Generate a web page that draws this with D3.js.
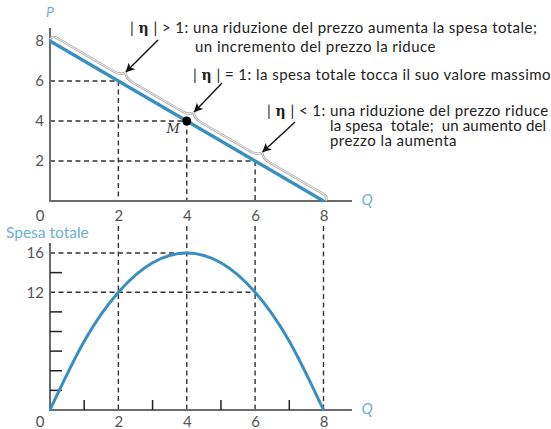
<!DOCTYPE html>
<html>
<head>
<meta charset="utf-8">
<script src="https://cdn.jsdelivr.net/npm/d3@7"></script>
<style>
  html, body { margin: 0; padding: 0; background: #fff; }
  svg { display: block; font-family: Lato, "Open Sans", sans-serif; }
</style>
</head>
<body>
<svg id="chart" width="551" height="429"></svg>
<script>
// Demand curve: quantity and price
const demandQ = [0, 2, 4, 6, 8];
const demandP = [8, 6, 4, 2, 0];
// Total spending P*Q along the demand curve
const spendQ = [0, 1, 2, 3, 4, 5, 6, 7, 8];
const spendValues = [0, 7, 12, 15, 16, 15, 12, 7, 0];
// Tick labels
const qTicks = [2, 4, 6, 8];
const pTicks = [2, 4, 6, 8];
const spendTicks = [12, 16];
const spendMinorTicks = [2, 4, 6, 8, 10, 14];
const qMinorTicks = [1, 3, 5, 7];
// Reference points marked with dashed guides
const guideQ = [2, 4, 6];
const guideP = [6, 4, 2];
const spendGuideQ = [2, 4, 6, 8];
// Point of unit elasticity
const pointM = { q: 4, p: 4, label: "M" };
// Brace notches along the demand line (in Q units)
const braceNotches = [2, 4, 6];

// Elasticity notes: condition and explanation lines
const noteConditions = ["> 1:", "= 1:", "< 1:"];
const noteLines = [
  ["una riduzione del prezzo aumenta la spesa totale;", "un incremento del prezzo la riduce"],
  ["la spesa totale tocca il suo valore massimo"],
  ["una riduzione del prezzo riduce", "la spesa  totale;  un aumento del", "prezzo la aumenta"]
];

const svg = d3.select("#chart");
const blue = "#3a8fc2";
const lightBlue = "#6cb0d0";
const axisCol = "#6a6a6a";
const tickCol = "#555";
const dashCol = "#333";

const x = d3.scaleLinear().domain([0, 8]).range([50, 323.5]);
const yTop = d3.scaleLinear().domain([0, 8]).range([201, 41]);
const yBot = d3.scaleLinear().domain([0, 16]).range([410, 253]);

// Arrow marker
svg.append("defs").append("marker")
  .attr("id", "arrow").attr("viewBox", "0 0 10 10")
  .attr("refX", 9).attr("refY", 5)
  .attr("markerWidth", 9).attr("markerHeight", 9)
  .attr("markerUnits", "userSpaceOnUse")
  .attr("orient", "auto")
  .append("path").attr("d", "M0,0 L10,5 L0,10 L2.5,5 Z").attr("fill", "#111");

const dash = "5,3.5";

// ---------- Upper panel: demand ----------
const upper = svg.append("g");

// dashed guides
guideQ.forEach((q, i) => {
  upper.append("line")
    .attr("x1", x(0)).attr("x2", x(q))
    .attr("y1", yTop(guideP[i])).attr("y2", yTop(guideP[i]))
    .attr("stroke", dashCol).attr("stroke-width", 1.4).attr("stroke-dasharray", dash);
  upper.append("line")
    .attr("x1", x(q)).attr("x2", x(q))
    .attr("y1", yTop(guideP[i])).attr("y2", yTop(0))
    .attr("stroke", dashCol).attr("stroke-width", 1.4).attr("stroke-dasharray", dash);
});

// axes
upper.append("line").attr("x1", x(0)).attr("x2", x(0)).attr("y1", 28).attr("y2", yTop(0))
  .attr("stroke", axisCol).attr("stroke-width", 2);
upper.append("line").attr("x1", x(0) - 1).attr("x2", 352).attr("y1", yTop(0)).attr("y2", yTop(0))
  .attr("stroke", axisCol).attr("stroke-width", 2);

// tick labels
const xAxisTop = d3.axisBottom(x).tickValues(qTicks).tickSize(0).tickPadding(9);
upper.append("g").attr("transform", `translate(0,${yTop(0)})`).call(xAxisTop)
  .call(g => g.select(".domain").remove())
  .call(g => g.selectAll("text").attr("fill", tickCol).attr("font-size", 15).attr("font-family", "Lato, sans-serif"));
const yAxisTop = d3.axisLeft(yTop).tickValues(pTicks).tickSize(0).tickPadding(6);
upper.append("g").attr("transform", `translate(${x(0)},0)`).call(yAxisTop)
  .call(g => g.select(".domain").remove())
  .call(g => g.selectAll("text").attr("fill", tickCol).attr("font-size", 15).attr("font-family", "Lato, sans-serif"));
upper.append("text").attr("x", 40).attr("y", yTop(0) + 20).attr("text-anchor", "middle")
  .attr("fill", tickCol).attr("font-size", 15).text("0");

// brace outline along the demand line
const p0 = [x(demandQ[0]), yTop(demandP[0])];
const p1 = [x(demandQ[demandQ.length - 1]), yTop(demandP[demandP.length - 1])];
const len = Math.hypot(p1[0] - p0[0], p1[1] - p0[1]);
const dir = [(p1[0] - p0[0]) / len, (p1[1] - p0[1]) / len];
const nrm = [dir[1], -dir[0]]; // points up-right
const qScale = d3.scaleLinear().domain([0, 8]).range([0, len]);
function pt(q, off) {
  const s = qScale(q);
  return [p0[0] + dir[0] * s + nrm[0] * off, p0[1] + dir[1] * s + nrm[1] * off];
}
const off = 6, bump = 5, half = 0.22;
let d = "";
{
  const a = pt(-0.02, 1.5), b = pt(0.1, off), c = pt(-0.02, off);
  d += `M${a} Q${c} ${b}`;
}
braceNotches.forEach(q => {
  const l = pt(q - half, off), lc = pt(q - 0.02, off), tip = pt(q + 0.05, off + bump), rc = pt(q + 0.12, off);
  const r = pt(q + half + 0.1, off);
  d += ` L${l} Q${lc} ${tip} Q${rc} ${r}`;
});
{
  const e1 = pt(7.92, off), ec = pt(8.03, off), e2 = pt(8.05, 1.5);
  d += ` L${e1} Q${ec} ${e2}`;
}
upper.append("path").attr("d", d).attr("fill", "none")
  .attr("stroke", "#a5a5a5").attr("stroke-width", 2.4).attr("stroke-linejoin", "round");
upper.append("path").attr("d", d).attr("fill", "none")
  .attr("stroke", "#fff").attr("stroke-width", 0.9).attr("stroke-linejoin", "round");

// demand line
upper.append("path")
  .datum(demandQ.map((q, i) => [q, demandP[i]]))
  .attr("d", d3.line().x(v => x(v[0])).y(v => yTop(v[1])))
  .attr("fill", "none").attr("stroke", blue).attr("stroke-width", 3.2);

// point M
upper.append("circle").attr("cx", x(pointM.q)).attr("cy", yTop(pointM.p)).attr("r", 4.5).attr("fill", "#000");
upper.append("text").attr("x", x(pointM.q) - 7).attr("y", yTop(pointM.p) + 12)
  .attr("text-anchor", "end").attr("font-style", "italic").attr("font-size", 13)
  .attr("font-family", "'DejaVu Serif', serif").attr("fill", "#333").text(pointM.label);

// axis names
upper.append("text").attr("x", 50).attr("y", 17).attr("text-anchor", "middle")
  .attr("font-style", "italic").attr("font-size", 14).attr("fill", lightBlue).text("P");
upper.append("text").attr("x", 367).attr("y", 205).attr("text-anchor", "middle")
  .attr("font-style", "italic").attr("font-size", 15).attr("fill", lightBlue).text("Q");

// elasticity notes
const noteLayout = [
  { x0: 130, x1: 195, y: 33, step: 19 },
  { x0: 193, x1: 193, y: 80, step: 15 },
  { x0: 267, x1: 330, y: 116, step: 15 }
];
noteLines.forEach((lines, i) => {
  const L = noteLayout[i];
  const t = svg.append("text").attr("font-size", 15).attr("letter-spacing", 0.45).attr("fill", "#222")
    .attr("x", L.x0).attr("y", L.y);
  t.append("tspan").attr("xml:space", "preserve").text("| ");
  t.append("tspan").attr("font-weight", "bold").attr("font-family", "'DejaVu Serif', serif").attr("font-size", 14).text("\u03b7");
  t.append("tspan").attr("xml:space", "preserve").text(" | " + noteConditions[i] + " ");
  t.append("tspan").text(lines[0]);
  lines.slice(1).forEach((ln, j) => {
    svg.append("text").attr("font-size", 15).attr("fill", "#222")
      .attr("x", L.x1).attr("y", L.y + (j + 1) * L.step)
      .attr("letter-spacing", ln.includes("  ") ? 0.15 : 0.45)
      .attr("xml:space", "preserve").text(ln);
  });
});

// arrows from notes to brace notches
const arrowStarts = [[158, 40], [222, 83], [295, 122]];
braceNotches.forEach((q, i) => {
  const tip = pt(q + 0.05, off + bump + 1);
  svg.append("line")
    .attr("x1", arrowStarts[i][0]).attr("y1", arrowStarts[i][1])
    .attr("x2", tip[0]).attr("y2", tip[1])
    .attr("stroke", "#111").attr("stroke-width", 1.4)
    .attr("marker-end", "url(#arrow)");
});

// ---------- Lower panel: total spending ----------
const lower = svg.append("g");

// vertical guides
spendGuideQ.forEach(q => {
  lower.append("line")
    .attr("x1", x(q)).attr("x2", x(q)).attr("y1", 226).attr("y2", yBot(0))
    .attr("stroke", dashCol).attr("stroke-width", 1.4).attr("stroke-dasharray", dash);
});
// horizontal guides, reaching the last quantity with that spending
spendTicks.forEach(v => {
  const qMax = d3.max(spendQ.filter((q, k) => spendValues[k] === v));
  lower.append("line")
    .attr("x1", x(0)).attr("x2", x(qMax)).attr("y1", yBot(v)).attr("y2", yBot(v))
    .attr("stroke", dashCol).attr("stroke-width", 1.4).attr("stroke-dasharray", dash);
});

// axes
lower.append("line").attr("x1", x(0)).attr("x2", x(0)).attr("y1", 243).attr("y2", yBot(0))
  .attr("stroke", axisCol).attr("stroke-width", 2);
lower.append("line").attr("x1", x(0) - 1).attr("x2", 352).attr("y1", yBot(0)).attr("y2", yBot(0))
  .attr("stroke", axisCol).attr("stroke-width", 2);

// minor ticks
spendMinorTicks.forEach(v => {
  lower.append("line").attr("x1", x(0)).attr("x2", x(0) + 12).attr("y1", yBot(v)).attr("y2", yBot(v))
    .attr("stroke", "#222").attr("stroke-width", 1.5);
});
qMinorTicks.forEach(q => {
  lower.append("line").attr("x1", x(q)).attr("x2", x(q)).attr("y1", yBot(0)).attr("y2", yBot(0) - 10)
    .attr("stroke", "#222").attr("stroke-width", 1.5);
});

const xAxisBot = d3.axisBottom(x).tickValues(qTicks).tickSize(0).tickPadding(6);
lower.append("g").attr("transform", `translate(0,${yBot(0)})`).call(xAxisBot)
  .call(g => g.select(".domain").remove())
  .call(g => g.selectAll("text").attr("fill", tickCol).attr("font-size", 15).attr("font-family", "Lato, sans-serif"));
const yAxisBot = d3.axisLeft(yBot).tickValues(spendTicks).tickSize(0).tickPadding(6);
lower.append("g").attr("transform", `translate(${x(0)},0)`).call(yAxisBot)
  .call(g => g.select(".domain").remove())
  .call(g => g.selectAll("text").attr("fill", tickCol).attr("font-size", 15).attr("font-family", "Lato, sans-serif"));
lower.append("text").attr("x", 40).attr("y", yBot(0) + 17).attr("text-anchor", "middle")
  .attr("fill", tickCol).attr("font-size", 15).text("0");

// spending curve
lower.append("path")
  .datum(spendQ.map((q, i) => [q, spendValues[i]]))
  .attr("d", d3.line().x(v => x(v[0])).y(v => yBot(v[1])).curve(d3.curveNatural))
  .attr("fill", "none").attr("stroke", blue).attr("stroke-width", 3);

lower.append("text").attr("x", 6).attr("y", 238).attr("font-size", 15.5).attr("fill", lightBlue).text("Spesa totale");
lower.append("text").attr("x", 367).attr("y", 414).attr("text-anchor", "middle")
  .attr("font-style", "italic").attr("font-size", 15).attr("fill", lightBlue).text("Q");
</script>
</body>
</html>
